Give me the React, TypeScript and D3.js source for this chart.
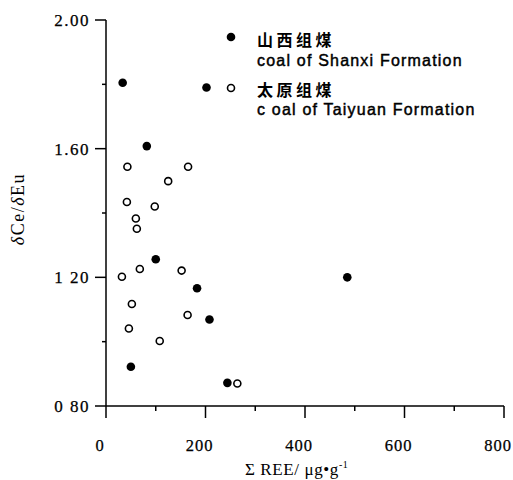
import React from "react";
import * as d3 from "d3";

const shanxiREE = [33.5, 202, 82, 100, 183, 208, 50, 244, 485];
const shanxiRatio = [1.805, 1.79, 1.608, 1.256, 1.166, 1.069, 0.922, 0.872, 1.2];

const taiyuanREE = [43, 165, 125, 98, 42, 60, 62, 32, 68, 152, 52, 164, 46, 108, 264];
const taiyuanRatio = [1.544, 1.544, 1.499, 1.42, 1.434, 1.383, 1.351, 1.202, 1.226, 1.221, 1.117, 1.083, 1.041, 1.002, 0.87];

const xMajorTicks = [0, 200, 400, 600, 800];
const xMinorTicks = [100, 300, 500, 700];
const yMajorTicks = [0.8, 1.2, 1.6, 2.0];
const yMinorTicks = [1.0, 1.4, 1.8];
const xTickLabels = ["0", "200", "400", "600", "800"];
const yTickLabels = ["0 80", "1 20", "1.60", "2.00"];

const legendZh = ["山西组煤", "太原组煤"];
const legendEn = ["coal of Shanxi Formation", "c oal of Taiyuan Formation"];

export default function App() {
  const x = d3.scaleLinear().domain([0, 800]).range([106, 504]);
  const y = d3.scaleLinear().domain([0.8, 2.0]).range([406, 20]);
  const serif = "'Liberation Serif', 'Times New Roman', serif";
  const sans = "'Liberation Sans', Arial, 'Noto Sans CJK SC', sans-serif";
  const cjk = "'Noto Sans CJK SC', sans-serif";
  const x0 = x(0);
  const y0 = y(0.8);
  return (
    <svg width={513} height={480} style={{ position: "absolute", left: 0, top: 0, background: "#fff" }}>
      <g stroke="#000" strokeWidth={1.5} fill="none">
        <line x1={x0} x2={x0} y1={y(2.0)} y2={y0} />
        <line x1={x0} x2={x(800)} y1={y0} y2={y0} />
        {yMajorTicks.map((t) => (
          <line key={"ym" + t} x1={x0 - 11} x2={x0} y1={y(t)} y2={y(t)} />
        ))}
        {yMinorTicks.map((t) => (
          <line key={"yn" + t} x1={x0 - 4} x2={x0} y1={y(t)} y2={y(t)} />
        ))}
        {xMajorTicks.map((t) => (
          <line key={"xm" + t} x1={x(t)} x2={x(t)} y1={y0} y2={y0 + 12} />
        ))}
        {xMinorTicks.map((t) => (
          <line key={"xn" + t} x1={x(t)} x2={x(t)} y1={y0} y2={y0 + 5} />
        ))}
      </g>
      <g fontFamily={serif} fontSize={17} fill="#000" stroke="#000" strokeWidth={0.25}>
        {yMajorTicks.map((t, i) => (
          <text key={"yl" + t} x={x0 - 16} y={y(t)} dy="0.35em" textAnchor="end" letterSpacing={1.5}>
            {yTickLabels[i]}
          </text>
        ))}
        {xMajorTicks.map((t, i) => (
          <text key={"xl" + t} x={x(t) - 6} y={451} textAnchor="middle" fontSize={16.5} letterSpacing={1}>
            {xTickLabels[i]}
          </text>
        ))}
      </g>
      <text
        transform={`translate(24, 209) rotate(-90)`}
        textAnchor="middle"
        fontFamily={serif}
        fontSize={18}
        letterSpacing={1.5}
      >
        <tspan fontStyle="italic">δ</tspan>
        <tspan>Ce/</tspan>
        <tspan fontStyle="italic">δ</tspan>
        <tspan>Eu</tspan>
      </text>
      <text x={245} y={475} fontFamily={serif} fontSize={17} letterSpacing={0.6}>
        <tspan>Σ REE/ μg•g</tspan>
        <tspan fontSize={10} dy={-7}>-1</tspan>
      </text>
      <g>
        {shanxiREE.map((v, i) => (
          <circle key={"s" + i} cx={x(v)} cy={y(shanxiRatio[i])} r={4.3} fill="#000" />
        ))}
        {taiyuanREE.map((v, i) => (
          <circle
            key={"t" + i}
            cx={x(v)}
            cy={y(taiyuanRatio[i])}
            r={3.5}
            fill="#fff"
            stroke="#000"
            strokeWidth={1.6}
          />
        ))}
      </g>
      <g>
        <circle cx={231} cy={37} r={4.3} fill="#000" />
        <text x={257} y={46} fontFamily={cjk} fontSize={16} fontWeight={700} letterSpacing={3.5}>
          {legendZh[0]}
        </text>
        <text x={257} y={66} fontFamily={sans} fontSize={16} letterSpacing={1.2} stroke="#000" strokeWidth={0.45}>
          {legendEn[0]}
        </text>
        <circle cx={231} cy={88} r={3.5} fill="#fff" stroke="#000" strokeWidth={1.6} />
        <text x={257} y={96} fontFamily={cjk} fontSize={16} fontWeight={700} letterSpacing={3.5}>
          {legendZh[1]}
        </text>
        <text x={257} y={115} fontFamily={sans} fontSize={16} letterSpacing={1.2} stroke="#000" strokeWidth={0.45}>
          {legendEn[1]}
        </text>
      </g>
    </svg>
  );
}
